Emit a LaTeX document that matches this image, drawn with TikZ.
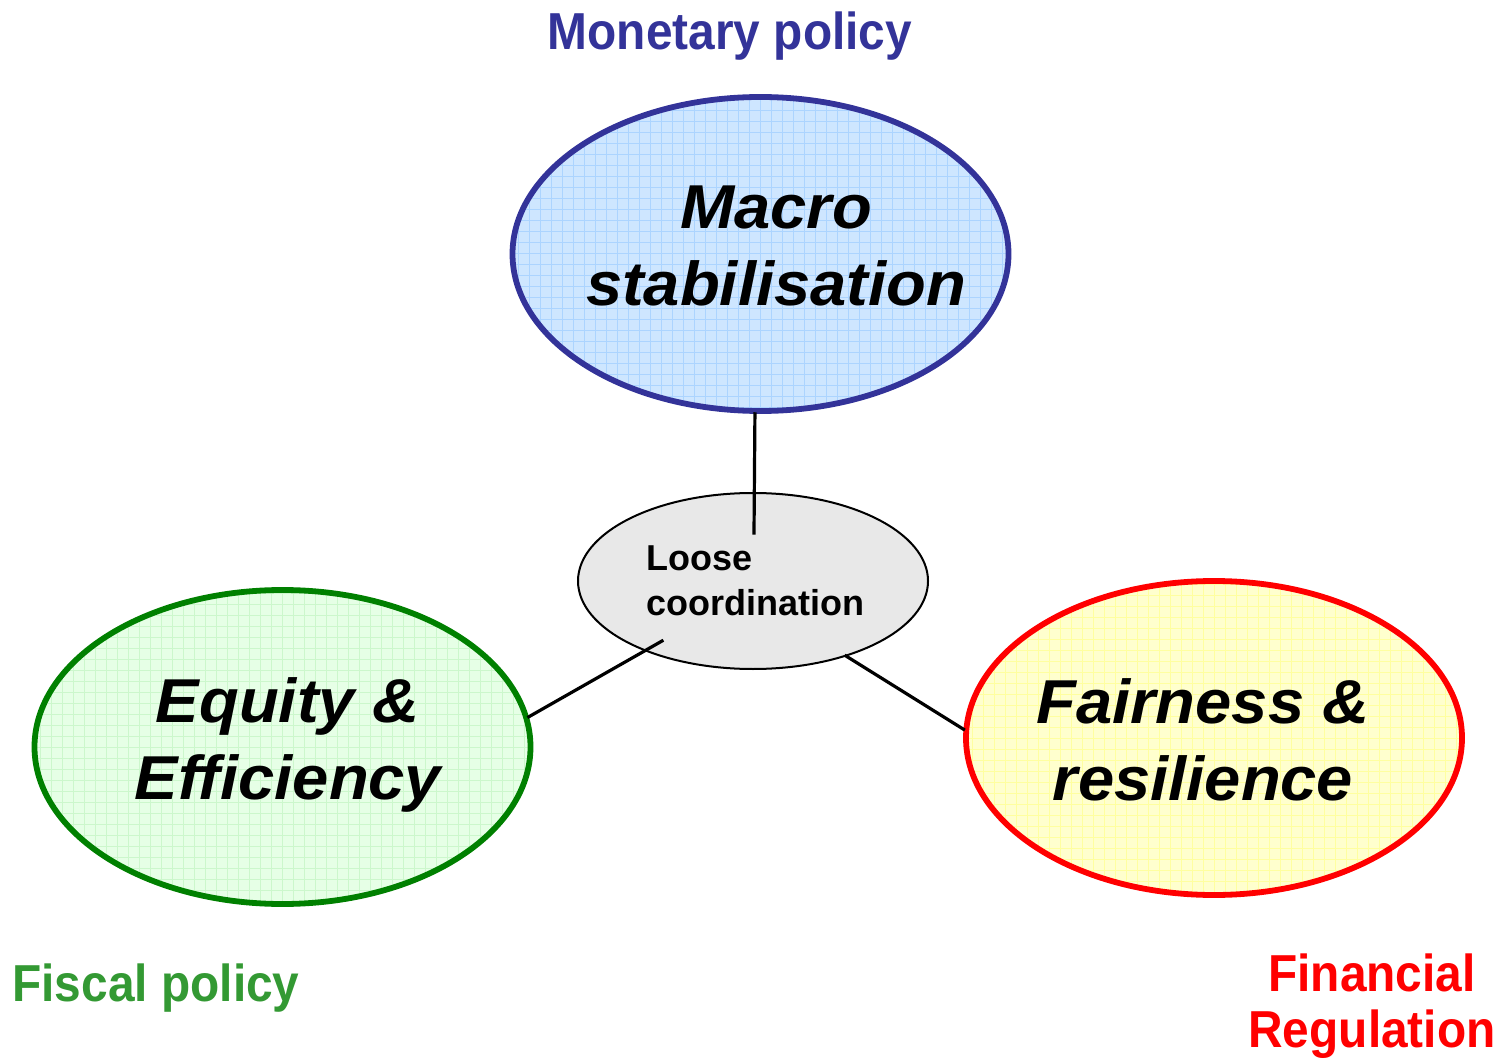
\documentclass[tikz,border=0pt]{standalone}
\usepackage{fontspec}
\setmainfont{Liberation Sans}
\usepackage{xcolor}
\usetikzlibrary{shapes.geometric}
\definecolor{monblue}{RGB}{51,51,153}
\definecolor{macrofill}{RGB}{206,230,255}
\definecolor{macrogrid}{RGB}{172,212,255}
\definecolor{fisgreen}{RGB}{0,128,0}
\definecolor{fistext}{RGB}{51,153,51}
\definecolor{equityfill}{RGB}{230,255,230}
\definecolor{equitygrid}{RGB}{204,247,204}
\definecolor{regred}{RGB}{255,0,0}
\definecolor{fairfill}{RGB}{255,255,206}
\definecolor{fairgrid}{RGB}{255,255,160}
\definecolor{loosefill}{RGB}{232,232,232}
\tikzset{
	goal node/.style={ellipse,draw,line width=2.9pt,minimum width=248pt,
		minimum height=157pt,inner sep=0pt},
	gridded/.style={path picture={
		\draw[#1,line width=0.5pt,step=5.5pt] (path picture bounding box.south west)
			grid (path picture bounding box.north east);}},
	goal text/.style={font=\fontsize{31}{38.5}\selectfont\bfseries\itshape,
		align=center,inner sep=0pt,xscale=1.05},
	policy text/.style={font=\fontsize{26}{28}\selectfont\bfseries,
		align=center,inner sep=0pt,xscale=0.92},
	loose node/.style={ellipse,draw,line width=1pt,fill=loosefill,minimum width=175pt,
		minimum height=88pt,inner sep=0pt,align=left,
		font=\fontsize{18}{22.5}\selectfont\bfseries},
	link/.style={line width=1.6pt,line cap=rect}
}

\begin{document}
\begin{tikzpicture}[x=0.5pt,y=-0.5pt]
	\useasboundingbox (0,0) rectangle (1503,1058);
	% the three goals
	\node [goal node,draw=monblue,fill=macrofill,gridded=macrogrid] (macro) at (760.5,254) {};
	\node [goal node,draw=fisgreen,fill=equityfill,gridded=equitygrid] (equity) at (282.5,747) {};
	\node [goal node,draw=regred,fill=fairfill,gridded=fairgrid] (fair) at (1214,738) {};
	\node [goal text] (macrotxt) at (776,246) {Macro\\stabilisation};
	\node [goal text] (equitytxt) at (288,745) {Equity \&\\Efficiency};
	\node [goal text] (fairtxt) at (1203,740) {Fairness \&\\resilience};
	% centre
	\node [loose node] (loose) at (753,581) {\hspace*{2pt}Loose\\\hspace*{2pt}coordination};
	\coordinate (topend) at (754,533);
	\coordinate (leftend) at (662,641);
	\coordinate (rightend) at (846,656);
	\draw [link] (macro.-92.3) -- (topend);
	\draw [link] (equity.7.4) -- (leftend);
	\draw [link] (fair.178.2) -- (rightend);
	% policies
	\node [policy text,text=monblue] (monetary) at (730,36) {Monetary policy};
	\node [policy text,text=fistext] (fiscal) at (156,988) {Fiscal policy};
	\node [policy text,text=regred] (finreg) at (1372,1006) {Financial\\Regulation};
\end{tikzpicture}
\end{document}
